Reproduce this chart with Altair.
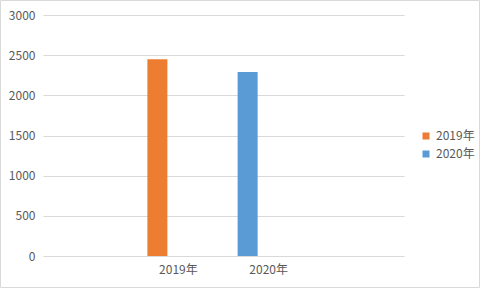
import altair as alt
import pandas as pd

categories = ["2019年", "2020年"]
values = [2450, 2290]
colors = ["#ED7D31", "#5B9BD5"]
y_ticks = [0, 500, 1000, 1500, 2000, 2500, 3000]

df = pd.DataFrame({"year": categories, "value": values})
FONT = "Noto Sans CJK SC"
TXT = "#595959"

bars = alt.Chart(df).mark_bar(width=20, xOffset=-21).encode(
    x=alt.X(
        "year:N",
        sort=categories,
        scale=alt.Scale(paddingInner=0, paddingOuter=1),
        axis=alt.Axis(title=None, labelAngle=0, ticks=False, domain=False, grid=False,
                      labelPadding=8, labelColor=TXT, labelFontSize=12, labelFont=FONT),
    ),
    y=alt.Y(
        "value:Q",
        scale=alt.Scale(domain=[0, 3000], nice=False),
        axis=alt.Axis(title=None, values=y_ticks, format="d", ticks=False, domain=False,
                      gridColor="#D9D9D9", gridWidth=1, labelPadding=8,
                      labelColor=TXT, labelFontSize=12, labelFont=FONT),
    ),
    color=alt.Color(
        "year:N",
        scale=alt.Scale(domain=categories, range=colors),
        legend=alt.Legend(title=None, orient="none", legendX=377, legendY=115,
                          symbolType="square", symbolSize=49, symbolStrokeWidth=0,
                          labelOffset=4, rowPadding=6, labelColor=TXT,
                          labelFontSize=12, labelFont=FONT),
    ),
)

border = alt.Chart(pd.DataFrame({"k": [0]})).mark_rect(
    fill=None, stroke="#D9D9D9", strokeWidth=1
).encode(
    x=alt.value(-42.5), x2=alt.value(436.5), y=alt.value(-14.5), y2=alt.value(272.5)
)

chart = alt.layer(border, bars).properties(
    width=361, height=241,
    autosize=alt.AutoSizeParams(type="none"),
    padding={"left": 43, "top": 15, "right": 78, "bottom": 34},
    background="white",
).configure_view(stroke=None)

chart.save("out.html", embed_options={"renderer": "svg", "actions": False})
